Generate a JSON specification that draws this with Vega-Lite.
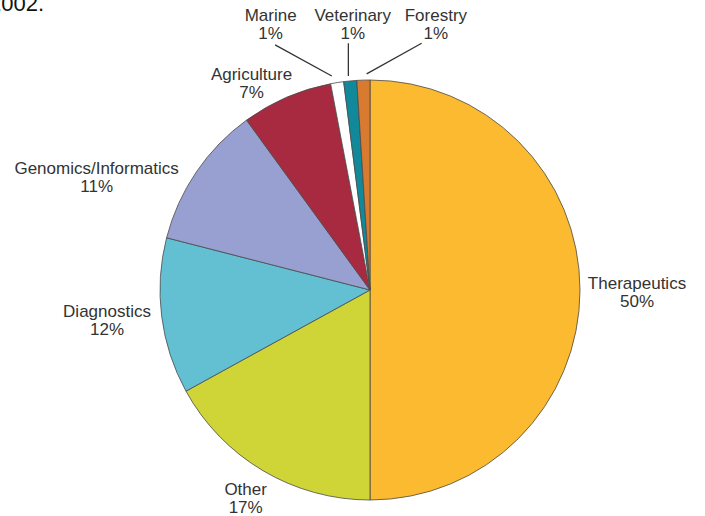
{
  "$schema": "https://vega.github.io/schema/vega-lite/v6.json",
  "width": 670,
  "height": 452,
  "autosize": {"type": "none"},
  "padding": {"left": 35, "top": 64, "right": 0, "bottom": 0},
  "background": "white",
  "config": {"view": {"stroke": null}},
  "title": {
    "text": "2002.",
    "anchor": "start",
    "frame": "group",
    "font": "Liberation Sans",
    "fontSize": 22,
    "fontWeight": "normal",
    "color": "#111111",
    "offset": 0,
    "baseline": "alphabetic",
    "dx": -46,
    "dy": 26
  },
  "datasets": {
    "shares": [
      {"category": "Therapeutics", "share": 0.50},
      {"category": "Other", "share": 0.17},
      {"category": "Diagnostics", "share": 0.12},
      {"category": "Genomics/Informatics", "share": 0.11},
      {"category": "Agriculture", "share": 0.07},
      {"category": "Marine", "share": 0.01},
      {"category": "Veterinary", "share": 0.01},
      {"category": "Forestry", "share": 0.01}
    ],
    "leaders": [
      {"category": "Marine", "x": -0.452, "y": 1.167, "x2": -0.182, "y2": 1.019},
      {"category": "Veterinary", "x": -0.103, "y": 1.175, "x2": -0.103, "y2": 1.019},
      {"category": "Forestry", "x": 0.246, "y": 1.175, "x2": -0.016, "y2": 1.029}
    ]
  },
  "layer": [
    {
      "data": {"name": "shares"},
      "mark": {"type": "arc", "outerRadius": 210, "stroke": "#4a4a4a", "strokeWidth": 0.8},
      "encoding": {
        "theta": {"field": "share", "type": "quantitative", "stack": true},
        "order": {"field": "share", "sort": "descending"},
        "color": {
          "field": "category",
          "type": "nominal",
          "legend": null,
          "scale": {
            "domain": ["Therapeutics", "Other", "Diagnostics", "Genomics/Informatics", "Agriculture", "Marine", "Veterinary", "Forestry"],
            "range": ["#FBBA30", "#CFD537", "#62C0D2", "#97A0D0", "#A82A41", "#FFFFFF", "#12899A", "#D87A2F"]
          }
        }
      }
    },
    {
      "data": {"name": "shares"},
      "mark": {
        "type": "text",
        "radius": 258,
        "font": "Liberation Sans",
        "fontSize": 17,
        "fill": "#333333",
        "align": "center",
        "baseline": "middle",
        "dx": {"expr": "datum.category == 'Therapeutics' ? 9 : datum.category == 'Other' ? 7 : datum.category == 'Diagnostics' ? -7 : datum.category == 'Genomics/Informatics' ? -60 : datum.category == 'Agriculture' ? -16 : datum.category == 'Marine' ? -59 : datum.category == 'Veterinary' ? 7 : 74"},
        "dy": {"expr": "(datum.category == 'Therapeutics' ? 3 : datum.category == 'Other' ? -13 : datum.category == 'Diagnostics' ? -1 : datum.category == 'Genomics/Informatics' ? 33 : datum.category == 'Agriculture' ? 31 : datum.category == 'Marine' ? -10 : datum.category == 'Veterinary' ? -8 : -7) - 9"}
      },
      "encoding": {
        "theta": {"field": "share", "type": "quantitative", "stack": true},
        "order": {"field": "share", "sort": "descending"},
        "text": {"field": "category", "type": "nominal"}
      }
    },
    {
      "data": {"name": "shares"},
      "mark": {
        "type": "text",
        "radius": 258,
        "font": "Liberation Sans",
        "fontSize": 17,
        "fill": "#333333",
        "align": "center",
        "baseline": "middle",
        "dx": {"expr": "datum.category == 'Therapeutics' ? 9 : datum.category == 'Other' ? 7 : datum.category == 'Diagnostics' ? -7 : datum.category == 'Genomics/Informatics' ? -60 : datum.category == 'Agriculture' ? -16 : datum.category == 'Marine' ? -59 : datum.category == 'Veterinary' ? 7 : 74"},
        "dy": {"expr": "(datum.category == 'Therapeutics' ? 3 : datum.category == 'Other' ? -13 : datum.category == 'Diagnostics' ? -1 : datum.category == 'Genomics/Informatics' ? 33 : datum.category == 'Agriculture' ? 31 : datum.category == 'Marine' ? -10 : datum.category == 'Veterinary' ? -8 : -7) + 9"}
      },
      "encoding": {
        "theta": {"field": "share", "type": "quantitative", "stack": true},
        "order": {"field": "share", "sort": "descending"},
        "text": {"field": "share", "type": "quantitative", "format": ".0%"}
      }
    },
    {
      "data": {"name": "leaders"},
      "mark": {"type": "rule", "stroke": "#333333", "strokeWidth": 1.3},
      "encoding": {
        "x": {"field": "x", "type": "quantitative", "scale": {"domain": [-1.5952, 1.5952]}, "axis": null},
        "y": {"field": "y", "type": "quantitative", "scale": {"domain": [-1.0762, 1.0762]}, "axis": null},
        "x2": {"field": "x2"},
        "y2": {"field": "y2"}
      }
    }
  ]
}
